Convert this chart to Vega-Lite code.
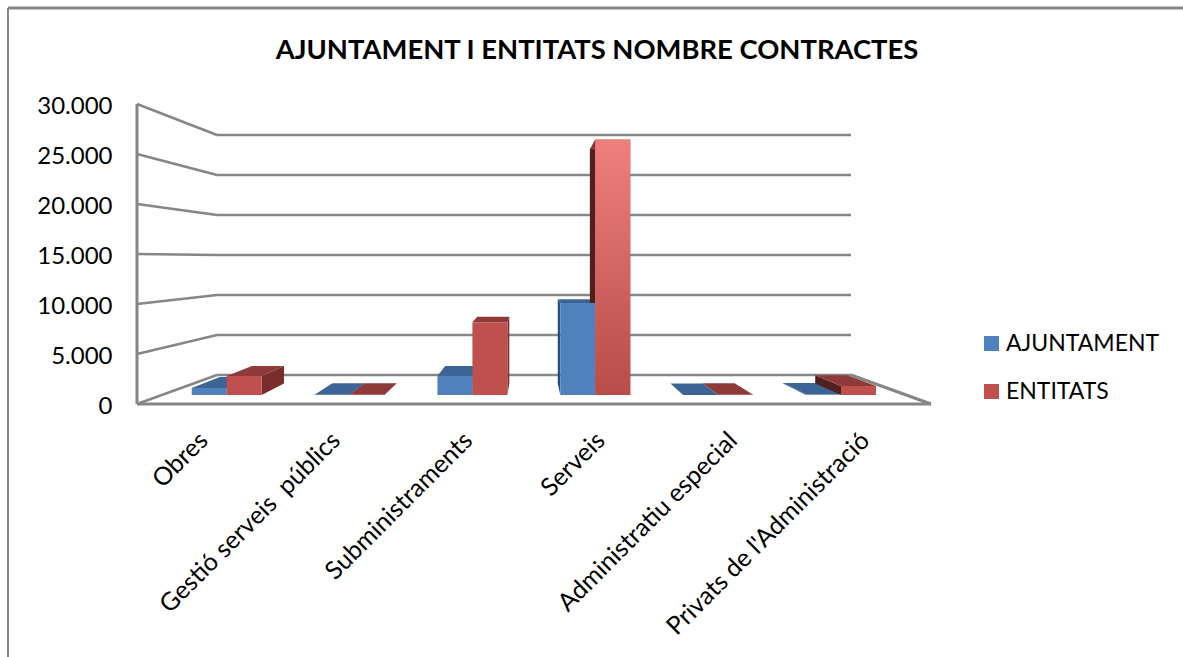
{"$schema":"https://vega.github.io/schema/vega-lite/v6.json","width":794,"height":300,"autosize":"none","padding":{"left":137,"top":104,"right":252,"bottom":253},"background":"#FFFFFF","config":{"view":{"stroke":null},"font":"Lato","axis":{"grid":false,"domain":false,"ticks":false,"labelColor":"#000000","labelFont":"Lato"}},"title":{"text":"AJUNTAMENT I ENTITATS NOMBRE CONTRACTES","font":"Lato","fontSize":27.4,"fontWeight":"bold","color":"#000000","anchor":"middle","dx":63,"offset":-58},"datasets":{"bars":[{"category":"Obres","series":"AJUNTAMENT","value":750},{"category":"Obres","series":"ENTITATS","value":2030},{"category":"Gestió serveis  públics","series":"AJUNTAMENT","value":30},{"category":"Gestió serveis  públics","series":"ENTITATS","value":30},{"category":"Subministraments","series":"AJUNTAMENT","value":2030},{"category":"Subministraments","series":"ENTITATS","value":7750},{"category":"Serveis","series":"AJUNTAMENT","value":9800},{"category":"Serveis","series":"ENTITATS","value":27200},{"category":"Administratiu especial","series":"AJUNTAMENT","value":10},{"category":"Administratiu especial","series":"ENTITATS","value":30},{"category":"Privats de l'Administració","series":"AJUNTAMENT","value":50},{"category":"Privats de l'Administració","series":"ENTITATS","value":960}],"ticks":[{"v":0},{"v":5000},{"v":10000},{"v":15000},{"v":20000},{"v":25000},{"v":30000}],"structure":[{"x":137,"x2":137,"a":0,"a2":30000},{"x":137,"x2":931,"a":0,"a2":0},{"x":851,"x2":931,"a":2900,"a2":0},{"x":8,"x2":1183,"a":39600,"a2":39600}],"frame":[{"x":8,"x2":8,"a":39600,"a2":-25300}]},"data":{"name":"bars"},"layer":[{"data":{"name":"ticks"},"transform":[{"calculate":"137","as":"xf"}],"mark":{"type":"rule","opacity":0},"encoding":{"x":{"field":"xf","type":"quantitative","scale":{"domain":[137,931],"nice":false,"zero":false},"title":null,"axis":{"title":null,"values":[203.17,335.5,467.83,600.17,732.5,864.83],"labelExpr":"['Obres','Gestió serveis\u00a0 públics','Subministraments','Serveis','Administratiu especial',\"Privats de l'Administració\"][round((datum.value-203.17)/132.33)]","labelAngle":-45,"labelAlign":"right","labelBaseline":"middle","labelFontSize":25,"labelPadding":32,"labelLimit":500,"labelOverlap":false}},"y":{"field":"v","type":"quantitative","scale":{"domain":[0,30000],"nice":false},"title":null,"axis":{"title":null,"values":[0,5000,10000,15000,20000,25000,30000],"labelExpr":"replace(format(datum.value,','),',','.')","labelFontSize":24,"labelPadding":25,"labelOffset":2}}}},{"data":{"name":"ticks"},"transform":[{"calculate":"2900+datum.v*0.8","as":"back"},{"calculate":"137","as":"xf"},{"calculate":"217","as":"xb"}],"mark":{"type":"rule","color":"#868686","strokeWidth":2.5},"encoding":{"x":{"field":"xf","type":"quantitative","title":null},"x2":{"field":"xb"},"y":{"field":"v","type":"quantitative","title":null},"y2":{"field":"back"}}},{"data":{"name":"ticks"},"transform":[{"calculate":"2900+datum.v*0.8","as":"back"},{"calculate":"217","as":"xb"},{"calculate":"851","as":"xe"}],"mark":{"type":"rule","color":"#868686","strokeWidth":2.5},"encoding":{"x":{"field":"xb","type":"quantitative","title":null},"x2":{"field":"xe"},"y":{"field":"back","type":"quantitative","title":null}}},{"data":{"name":"structure"},"mark":{"type":"rule","color":"#868686","strokeWidth":3},"encoding":{"x":{"field":"x","type":"quantitative","title":null},"x2":{"field":"x2"},"y":{"field":"a","type":"quantitative","title":null},"y2":{"field":"a2"}}},{"data":{"name":"frame"},"mark":{"type":"rule","color":"#868686","strokeWidth":2},"encoding":{"x":{"field":"x","type":"quantitative","title":null},"x2":{"field":"x2"},"y":{"field":"a","type":"quantitative","title":null},"y2":{"field":"a2"}}},{"transform":[{"filter":"datum.series=='AJUNTAMENT'"},{"calculate":"indexof(['Obres','Gestió serveis  públics','Subministraments','Serveis','Administratiu especial',\"Privats de l'Administració\"],datum.category)","as":"i"},{"calculate":"191.7+122.86*datum.i","as":"x0"},{"calculate":"datum.x0+35","as":"x1"},{"calculate":"900+datum.value*0.938","as":"top"},{"calculate":"[0,1]","as":"d"},{"flatten":["d"]},{"calculate":"datum.x0>530?datum.x0:datum.x1","as":"sb"},{"calculate":"datum.sb+datum.d*(530-datum.sb)*0.083","as":"sx"},{"calculate":"datum.top+datum.d*(14800-datum.top)*0.083","as":"at"},{"calculate":"900+datum.d*(14800-900)*0.083","as":"ab"}],"mark":{"type":"area","orient":"vertical","color":"#2C4D75"},"encoding":{"x":{"field":"sx","type":"quantitative","title":null},"y":{"field":"at","type":"quantitative","title":null},"y2":{"field":"ab"},"detail":{"field":"category"}}},{"transform":[{"filter":"datum.series=='AJUNTAMENT'"},{"calculate":"indexof(['Obres','Gestió serveis  públics','Subministraments','Serveis','Administratiu especial',\"Privats de l'Administració\"],datum.category)","as":"i"},{"calculate":"191.7+122.86*datum.i","as":"x0"},{"calculate":"datum.x0+35","as":"x1"},{"calculate":"900+datum.value*0.938","as":"top"},{"calculate":"[0,1]","as":"d"},{"flatten":["d"]},{"calculate":"datum.x0+datum.d*(530-datum.x0)*0.083","as":"xl"},{"calculate":"datum.x1+datum.d*(530-datum.x1)*0.083","as":"xr"},{"calculate":"datum.top+datum.d*(14800-datum.top)*0.083","as":"at"}],"mark":{"type":"area","orient":"horizontal","color":"#3C6494"},"encoding":{"x":{"field":"xl","type":"quantitative","title":null},"x2":{"field":"xr"},"y":{"field":"at","type":"quantitative","title":null},"detail":{"field":"category"}}},{"transform":[{"filter":"datum.series=='ENTITATS'"},{"calculate":"indexof(['Obres','Gestió serveis  públics','Subministraments','Serveis','Administratiu especial',\"Privats de l'Administració\"],datum.category)","as":"i"},{"calculate":"226.7+122.86*datum.i","as":"x0"},{"calculate":"datum.x0+35","as":"x1"},{"calculate":"900+datum.value*0.938","as":"top"},{"calculate":"[0,1]","as":"d"},{"flatten":["d"]},{"filter":"datum.x0>530"},{"calculate":"datum.x0+datum.d*(530-datum.x0)*0.083","as":"sx"},{"calculate":"datum.top+datum.d*(14800-datum.top)*0.083","as":"at"},{"calculate":"900+datum.d*(14800-900)*0.083","as":"ab"}],"mark":{"type":"area","orient":"vertical","color":"#50201E"},"encoding":{"x":{"field":"sx","type":"quantitative","title":null},"y":{"field":"at","type":"quantitative","title":null},"y2":{"field":"ab"},"detail":{"field":"category"}}},{"transform":[{"filter":"datum.series=='ENTITATS'"},{"calculate":"indexof(['Obres','Gestió serveis  públics','Subministraments','Serveis','Administratiu especial',\"Privats de l'Administració\"],datum.category)","as":"i"},{"calculate":"226.7+122.86*datum.i","as":"x0"},{"calculate":"datum.x0+35","as":"x1"},{"calculate":"900+datum.value*0.938","as":"top"},{"calculate":"[0,1]","as":"d"},{"flatten":["d"]},{"filter":"datum.x0<=530"},{"calculate":"datum.x1+datum.d*(530-datum.x1)*0.083","as":"sx"},{"calculate":"datum.top+datum.d*(14800-datum.top)*0.083","as":"at"},{"calculate":"900+datum.d*(14800-900)*0.083","as":"ab"}],"mark":{"type":"area","orient":"vertical","color":"#772E2C"},"encoding":{"x":{"field":"sx","type":"quantitative","title":null},"y":{"field":"at","type":"quantitative","title":null},"y2":{"field":"ab"},"detail":{"field":"category"}}},{"transform":[{"filter":"datum.series=='ENTITATS'"},{"calculate":"indexof(['Obres','Gestió serveis  públics','Subministraments','Serveis','Administratiu especial',\"Privats de l'Administració\"],datum.category)","as":"i"},{"calculate":"226.7+122.86*datum.i","as":"x0"},{"calculate":"datum.x0+35","as":"x1"},{"calculate":"900+datum.value*0.938","as":"top"},{"calculate":"[0,1]","as":"d"},{"flatten":["d"]},{"calculate":"datum.x0+datum.d*(530-datum.x0)*0.083","as":"xl"},{"calculate":"datum.x1+datum.d*(530-datum.x1)*0.083","as":"xr"},{"calculate":"datum.top+datum.d*(14800-datum.top)*0.083","as":"at"}],"mark":{"type":"area","orient":"horizontal","color":"#8E3A38"},"encoding":{"x":{"field":"xl","type":"quantitative","title":null},"x2":{"field":"xr"},"y":{"field":"at","type":"quantitative","title":null},"detail":{"field":"category"}}},{"transform":[{"calculate":"indexof(['Obres','Gestió serveis  públics','Subministraments','Serveis','Administratiu especial',\"Privats de l'Administració\"],datum.category)","as":"i"},{"calculate":"191.7+122.86*datum.i+(datum.series=='ENTITATS'?35:0)","as":"x0"},{"calculate":"datum.x0+35","as":"x1"},{"calculate":"900+datum.value*0.938","as":"top"},{"calculate":"900","as":"base"}],"mark":{"type":"rect"},"encoding":{"x":{"field":"x0","type":"quantitative","title":null},"x2":{"field":"x1"},"y":{"field":"top","type":"quantitative","title":null},"y2":{"field":"base"},"color":{"field":"series","type":"nominal","scale":{"domain":["AJUNTAMENT","ENTITATS"],"range":["#4F81BD","#C0504D"]},"title":null,"legend":{"orient":"none","legendX":843,"legendY":228,"symbolType":"square","symbolSize":225,"symbolStrokeWidth":0,"labelFontSize":23,"labelFont":"Lato","labelColor":"#000000","labelOffset":3,"rowPadding":24,"padding":0}}}},{"transform":[{"filter":"datum.value>20000"},{"calculate":"indexof(['Obres','Gestió serveis  públics','Subministraments','Serveis','Administratiu especial',\"Privats de l'Administració\"],datum.category)","as":"i"},{"calculate":"226.7+122.86*datum.i","as":"x0"},{"calculate":"datum.x0+35","as":"x1"},{"calculate":"900+datum.value*0.938","as":"top"},{"calculate":"900","as":"base"}],"mark":{"type":"rect","color":{"gradient":"linear","x1":0,"y1":0,"x2":0,"y2":1,"stops":[{"offset":0,"color":"#EE7F7D"},{"offset":1,"color":"#B84C49"}]}},"encoding":{"x":{"field":"x0","type":"quantitative","title":null},"x2":{"field":"x1"},"y":{"field":"top","type":"quantitative","title":null},"y2":{"field":"base"}}}]}
